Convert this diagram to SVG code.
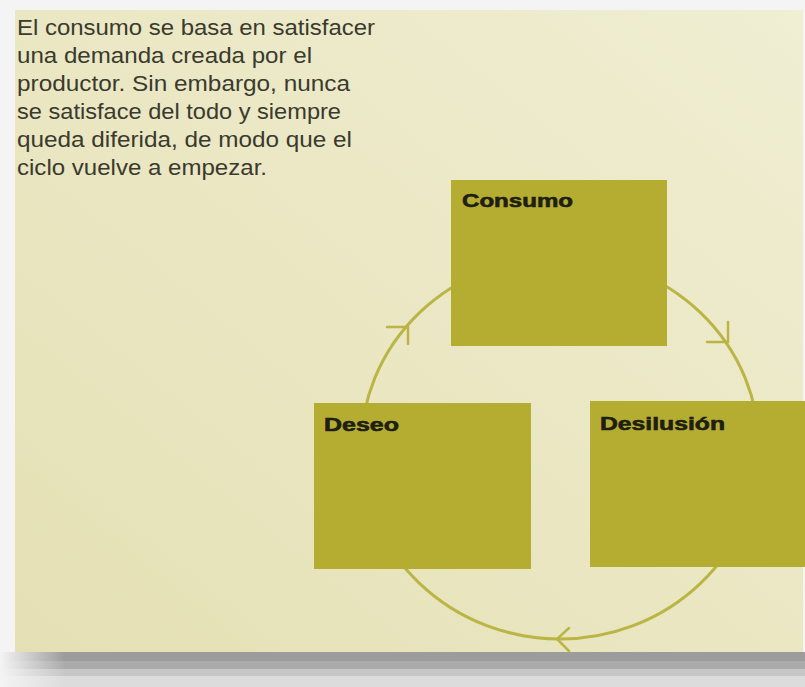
<svg xmlns="http://www.w3.org/2000/svg" width="805" height="687" viewBox="0 0 805 687">
  <defs>
    <linearGradient id="paper" x1="0" y1="1" x2="1" y2="0">
      <stop offset="0" stop-color="#e5e0b4"/>
      <stop offset="1" stop-color="#f0eed3"/>
    </linearGradient>
    <linearGradient id="leftfade" x1="0" y1="0" x2="1" y2="0">
      <stop offset="0" stop-color="#f4f4f4"/>
      <stop offset="1" stop-color="#f4f4f4" stop-opacity="0"/>
    </linearGradient>
    <style>
      .body { font-family: "Liberation Sans", Arial, sans-serif; font-size: 22.5px; fill: #3a3a2e; }
      .label { font-family: "Liberation Sans", Arial, sans-serif; font-size: 18.5px; font-weight: bold; fill: #1e1e12; stroke: #1e1e12; stroke-width: 0.6; }
      .box { fill: #b4ad32; }
      .ring { fill: none; stroke: #bab545; stroke-width: 3; }
      .head { fill: none; stroke: #bab545; stroke-width: 2.5; stroke-linecap: round; stroke-linejoin: miter; }
    </style>
  </defs>

  <!-- frame / page -->
  <rect x="0" y="0" width="805" height="687" fill="#f4f4f4"/>
  <rect x="15" y="10" width="788" height="642" fill="url(#paper)"/>
  <rect x="0" y="652" width="805" height="9" fill="#9c9c9c"/>
  <rect x="0" y="661" width="805" height="8" fill="#ababab"/>
  <rect x="0" y="669" width="805" height="7" fill="#c6c6c6"/>
  <rect x="0" y="676" width="805" height="11" fill="#dcdcdc"/>
  <rect x="0" y="652" width="65" height="35" fill="url(#leftfade)"/>

  <!-- description text -->
  <g id="description">
    <text class="body" x="17" y="35" textLength="358" lengthAdjust="spacingAndGlyphs">El consumo se basa en satisfacer</text>
    <text class="body" x="17" y="63" textLength="295" lengthAdjust="spacingAndGlyphs">una demanda creada por el</text>
    <text class="body" x="17" y="91" textLength="333" lengthAdjust="spacingAndGlyphs">productor. Sin embargo, nunca</text>
    <text class="body" x="17" y="119" textLength="324" lengthAdjust="spacingAndGlyphs">se satisface del todo y siempre</text>
    <text class="body" x="17" y="147" textLength="335" lengthAdjust="spacingAndGlyphs">queda diferida, de modo que el</text>
    <text class="body" x="17" y="175" textLength="250" lengthAdjust="spacingAndGlyphs">ciclo vuelve a empezar.</text>
  </g>

  <!-- connectors -->
  <g id="connectors">
    <ellipse class="ring" cx="560" cy="448" rx="199" ry="191"/>
    <polyline class="head" points="387,327 408,327 408,344"/>
    <polyline class="head" points="728,322 728,342 707,342"/>
    <polyline class="head" points="569,628 557,639 569,651"/>
  </g>

  <!-- nodes -->
  <g id="node-consumo">
    <rect class="box" x="451" y="180" width="216" height="166"/>
    <text class="label" x="462" y="207" textLength="111" lengthAdjust="spacingAndGlyphs">Consumo</text>
  </g>
  <g id="node-deseo">
    <rect class="box" x="314" y="403" width="217" height="166"/>
    <text class="label" x="324" y="431" textLength="75" lengthAdjust="spacingAndGlyphs">Deseo</text>
  </g>
  <g id="node-desilusion">
    <rect class="box" x="590" y="401" width="215" height="166"/>
    <text class="label" x="600" y="430" textLength="125" lengthAdjust="spacingAndGlyphs">Desilusión</text>
  </g>
</svg>
